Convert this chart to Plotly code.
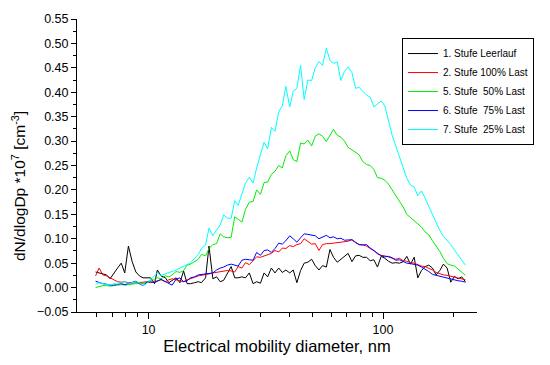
import plotly.graph_objects as go

# Electrical mobility diameter (nm), SMPS channel midpoints
diameter_nm = [
    5.94, 6.15, 6.38, 6.61, 6.85, 7.10, 7.37, 7.64, 7.91, 8.20,
    8.51, 8.82, 9.14, 9.47, 9.82, 10.2, 10.6, 10.9, 11.3, 11.8,
    12.2, 12.6, 13.1, 13.6, 14.1, 14.6, 15.1, 15.7, 16.3, 16.8,
    17.5, 18.1, 18.8, 19.5, 20.2, 20.9, 21.7, 22.5, 23.3, 24.1,
    25.0, 25.9, 26.9, 27.9, 28.9, 30.0, 31.1, 32.2, 33.4, 34.6,
    35.9, 37.2, 38.5, 40.0, 41.4, 42.9, 44.5, 46.1, 47.8, 49.6,
    51.4, 53.3, 55.2, 57.3, 59.4, 61.5, 63.8, 66.1, 68.5, 71.0,
    73.7, 76.4, 79.1, 82.0, 85.1, 88.2, 91.4, 94.7, 98.2, 101.8,
    105.5, 109.4, 113.4, 117.6, 121.9, 126.3, 131.0, 135.8, 140.7, 145.9,
    151.2, 156.8, 162.5, 168.5, 174.7, 181.1, 187.7, 194.6, 201.7, 209.1,
    216.7, 224.7,
]

stufe1_leerlauf = [
    0.032, 0.030, 0.028, 0.026, 0.018, 0.030, 0.040, 0.050, 0.030, 0.085,
    0.053, 0.032, 0.024, 0.020, 0.020, 0.020, 0.008, 0.036, 0.024, 0.020,
    0.010, 0.014, 0.020, 0.010, 0.034, 0.008, 0.008, 0.010, 0.012, 0.010,
    0.020, 0.085, 0.018, 0.022, 0.012, 0.015, 0.028, 0.043, 0.020, 0.020,
    0.022, 0.020, 0.030, 0.008, 0.012, 0.009, 0.030, 0.022, 0.040, 0.030,
    0.040, 0.031, 0.036, 0.030, 0.036, 0.010, 0.035, 0.050, 0.052, 0.058,
    0.045, 0.036, 0.045, 0.042, 0.078, 0.062, 0.052, 0.058, 0.065, 0.070,
    0.053, 0.065, 0.066, 0.062, 0.062, 0.055, 0.057, 0.042, 0.064, 0.060,
    0.054, 0.050, 0.051, 0.050, 0.053, 0.064, 0.048, 0.062, 0.020, 0.035,
    0.043, 0.046, 0.040, 0.026, 0.035, 0.048, 0.040, 0.011, 0.023, 0.018,
    0.022, 0.012,
]

stufe2_100_last = [
    0.024, 0.040, 0.026, 0.024, 0.020, 0.016, 0.012, 0.011, 0.012, 0.010,
    0.009, 0.010, 0.010, 0.011, 0.012, 0.010, 0.012, 0.014, 0.016, 0.012,
    0.016, 0.018, 0.016, 0.013, 0.012, 0.016, 0.019, 0.021, 0.024, 0.025,
    0.026, 0.028, 0.030, 0.031, 0.032, 0.033, 0.035, 0.034, 0.032, 0.043,
    0.040, 0.051, 0.047, 0.055, 0.063, 0.062, 0.065, 0.067, 0.070, 0.076,
    0.073, 0.081, 0.080, 0.086, 0.084, 0.088, 0.090, 0.100, 0.095, 0.089,
    0.090, 0.076, 0.088, 0.090, 0.090, 0.091, 0.092, 0.092, 0.094, 0.095,
    0.098, 0.093, 0.088, 0.088, 0.085, 0.080, 0.076, 0.069, 0.066, 0.065,
    0.063, 0.061, 0.058, 0.060, 0.055, 0.054, 0.051, 0.050, 0.047, 0.044,
    0.043, 0.040, 0.036, 0.031, 0.028, 0.026, 0.025, 0.023, 0.021, 0.020,
    0.018, 0.016,
]

stufe5_50_last = [
    0.000, 0.002, 0.004, 0.004, 0.003, 0.004, 0.005, 0.006, 0.005, 0.006,
    0.006, 0.007, 0.009, 0.008, 0.011, 0.015, 0.016, 0.020, 0.018, 0.024,
    0.022, 0.026, 0.033, 0.031, 0.035, 0.046, 0.048, 0.054, 0.058, 0.068,
    0.065, 0.080, 0.088, 0.090, 0.110, 0.104, 0.102, 0.103, 0.145, 0.140,
    0.134, 0.160, 0.175, 0.176, 0.200, 0.191, 0.215, 0.216, 0.232, 0.238,
    0.250, 0.245, 0.270, 0.280, 0.262, 0.258, 0.296, 0.294, 0.302, 0.290,
    0.310, 0.315, 0.310, 0.299, 0.312, 0.324, 0.312, 0.308, 0.300, 0.287,
    0.282, 0.276, 0.272, 0.258, 0.252, 0.250, 0.242, 0.225, 0.224, 0.220,
    0.212, 0.200, 0.188, 0.176, 0.165, 0.150, 0.143, 0.136, 0.130, 0.124,
    0.114, 0.108, 0.096, 0.085, 0.074, 0.060, 0.049, 0.046, 0.044, 0.038,
    0.031, 0.025,
]

stufe6_75_last = [
    0.013, 0.010, 0.008, 0.007, 0.005, 0.005, 0.006, 0.008, 0.006, 0.008,
    0.011, 0.013, 0.008, 0.004, 0.011, 0.012, 0.010, 0.013, 0.017, 0.012,
    0.009, 0.005, 0.017, 0.020, 0.012, 0.014, 0.020, 0.022, 0.026, 0.027,
    0.027, 0.028, 0.030, 0.036, 0.040, 0.042, 0.046, 0.048, 0.046, 0.044,
    0.056, 0.058, 0.057, 0.056, 0.072, 0.066, 0.076, 0.077, 0.072, 0.080,
    0.091, 0.089, 0.096, 0.106, 0.100, 0.093, 0.102, 0.110, 0.109, 0.107,
    0.106, 0.100, 0.104, 0.107, 0.102, 0.104, 0.100, 0.101, 0.097, 0.098,
    0.098, 0.092, 0.088, 0.087, 0.088, 0.081, 0.076, 0.070, 0.065, 0.063,
    0.064, 0.061, 0.056, 0.057, 0.054, 0.050, 0.049, 0.048, 0.046, 0.042,
    0.038, 0.033, 0.027, 0.025, 0.023, 0.022, 0.020, 0.017, 0.015, 0.014,
    0.013, 0.011,
]

stufe7_25_last = [
    0.007, 0.010, 0.008, 0.006, 0.005, 0.008, 0.007, 0.010, 0.013, 0.008,
    0.010, 0.012, 0.010, 0.004, 0.008, 0.016, 0.022, 0.030, 0.025, 0.028,
    0.030, 0.032, 0.036, 0.040, 0.043, 0.047, 0.051, 0.060, 0.068, 0.080,
    0.087, 0.122, 0.106, 0.118, 0.128, 0.149, 0.142, 0.142, 0.178, 0.168,
    0.190, 0.214, 0.226, 0.214, 0.245, 0.275, 0.298, 0.284, 0.328, 0.320,
    0.360, 0.372, 0.412, 0.370, 0.402, 0.408, 0.455, 0.385, 0.425, 0.424,
    0.450, 0.463, 0.455, 0.490, 0.465, 0.459, 0.462, 0.424, 0.443, 0.452,
    0.440, 0.408, 0.410, 0.402, 0.394, 0.390, 0.370, 0.376, 0.382, 0.372,
    0.340, 0.312, 0.290, 0.268, 0.245, 0.224, 0.210, 0.206, 0.188, 0.198,
    0.183, 0.167, 0.148, 0.135, 0.117, 0.105, 0.097, 0.088, 0.077, 0.066,
    0.055, 0.046,
]

series_names = [
    "1. Stufe Leerlauf",
    "2. Stufe 100% Last",
    "5. Stufe\u00a0\u00a050% Last",
    "6. Stufe\u00a0\u00a075% Last",
    "7. Stufe\u00a0\u00a025% Last",
]
series_values = [stufe1_leerlauf, stufe2_100_last, stufe5_50_last, stufe6_75_last, stufe7_25_last]
series_colors = ["#000000", "#ff0000", "#00ee00", "#0000ff", "#00ffff"]

x_major_ticks = [10, 100]
x_major_labels = ["10", "100"]
x_minor_ticks = [6, 7, 8, 9, 20, 30, 40, 50, 60, 70, 80, 90, 200]

y_title = "dN/dlogDp *10<sup>7</sup> [cm<sup>-3</sup>]"
x_title = "Electrical mobility diameter, nm"

FONT = "Liberation Sans, Arial, sans-serif"

fig = go.Figure()
for name, vals, col in zip(series_names, series_values, series_colors):
    fig.add_trace(go.Scatter(
        x=diameter_nm, y=vals, mode="lines", name=name,
        line=dict(color=col, width=1),
    ))

fig.update_layout(
    width=550, height=365,
    margin=dict(l=77, r=73, t=17, b=45),
    paper_bgcolor="white", plot_bgcolor="white",
    font=dict(family=FONT, size=12, color="black"),
    showlegend=True,
    legend=dict(
        x=0.8125, y=0.935, xanchor="left", yanchor="top",
        bgcolor="white", bordercolor="black", borderwidth=1,
        font=dict(family=FONT, size=10, color="black"),
        itemwidth=30, tracegroupgap=0,
    ),
    xaxis=dict(
        type="log", range=[0.6945, 2.401],
        showline=True, linecolor="black", linewidth=1,
        showgrid=False, zeroline=False,
        ticks="outside", ticklen=6, tickwidth=1, tickcolor="black",
        tickmode="array", tickvals=x_major_ticks, ticktext=x_major_labels,
        tickfont=dict(size=12.5),
        minor=dict(ticks="outside", ticklen=4, tickcolor="black",
                   tickmode="array", tickvals=x_minor_ticks),
        title=dict(text=x_title, font=dict(size=16.5), standoff=4),
        mirror=False,
    ),
    yaxis=dict(
        range=[-0.05, 0.55],
        showline=True, linecolor="black", linewidth=1,
        showgrid=False, zeroline=False,
        ticks="outside", ticklen=5, tickwidth=1, tickcolor="black",
        dtick=0.05, tick0=0, tickformat=".2f",
        tickfont=dict(size=12.5),
        minor=dict(ticks="outside", ticklen=3, tickcolor="black", dtick=0.025),
        mirror=False,
    ),
    annotations=[dict(
        text=y_title, textangle=-90, showarrow=False,
        xref="paper", yref="paper", x=-0.145, y=0.43,
        xanchor="center", yanchor="middle",
        font=dict(family=FONT, size=15.5, color="black"),
    )],
)

fig.write_html("out.html")
